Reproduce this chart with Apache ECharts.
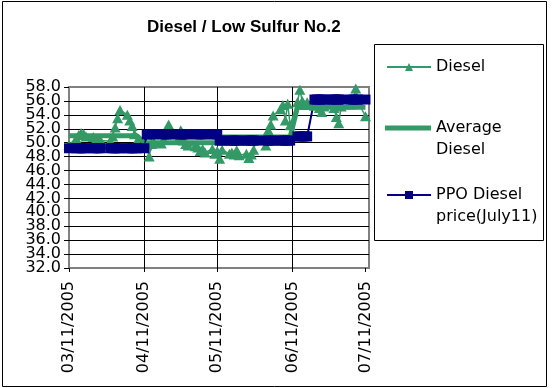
<!DOCTYPE html>
<html><head><meta charset="utf-8">
<script src="https://cdn.jsdelivr.net/npm/echarts@6/dist/echarts.min.js"></script>
<style>html,body{margin:0;padding:0;background:#fff}#c{width:553px;height:388px}</style>
</head><body><div id="c"></div>
<script>
const dates = [
 '2005-03-11','2005-03-14','2005-03-15','2005-03-16','2005-03-17','2005-03-18','2005-03-21','2005-03-22','2005-03-23','2005-03-24','2005-03-28','2005-03-29','2005-03-30','2005-03-31',
 '2005-04-01','2005-04-04','2005-04-05','2005-04-06','2005-04-07','2005-04-08','2005-04-11','2005-04-12','2005-04-13','2005-04-14','2005-04-15','2005-04-18','2005-04-19','2005-04-20','2005-04-21','2005-04-22','2005-04-25','2005-04-26','2005-04-27','2005-04-28','2005-04-29',
 '2005-05-02','2005-05-03','2005-05-04','2005-05-05','2005-05-06','2005-05-09','2005-05-10','2005-05-11','2005-05-12','2005-05-13','2005-05-16','2005-05-17','2005-05-18','2005-05-19','2005-05-20','2005-05-23','2005-05-24','2005-05-25','2005-05-26','2005-05-27','2005-05-31',
 '2005-06-01','2005-06-02','2005-06-03','2005-06-06','2005-06-07','2005-06-08','2005-06-09','2005-06-10','2005-06-13','2005-06-14','2005-06-15','2005-06-16','2005-06-17','2005-06-20','2005-06-21','2005-06-22','2005-06-23','2005-06-24','2005-06-27','2005-06-28','2005-06-29','2005-06-30',
 '2005-07-01','2005-07-05','2005-07-06','2005-07-07','2005-07-08','2005-07-11'
];
const diesel = [
 49.7,50.6,51.1,51.4,51.3,50.9,50.8,50.4,50.2,50.3,50.2,50.9,52.2,53.5,
 54.7,54.0,53.2,52.4,51.2,50.2,49.3,49.6,48.0,49.8,50.0,49.9,50.4,51.5,52.6,51.4,50.5,51.8,50.3,49.8,49.6,
 49.5,49.3,48.8,49.1,48.6,49.1,48.4,48.8,47.7,49.0,48.4,48.6,48.3,48.9,48.2,48.4,47.8,48.3,49.0,50.5,49.6,
 51.8,52.6,53.9,54.8,55.4,53.2,55.6,52.5,55.8,57.6,56.0,55.4,55.8,55.3,55.6,55.0,54.4,55.2,55.6,55.0,53.7,52.8,
 55.2,55.5,56.0,57.8,55.8,53.8
];
const averageDiesel = [
 51.0,51.0,51.0,51.0,51.0,51.0,51.0,51.0,51.0,51.0,51.0,51.0,51.0,51.0,
 51.0,51.0,51.0,51.0,51.0,51.0,50.0,50.0,50.0,50.0,50.0,50.0,50.0,50.0,50.0,50.0,50.0,50.0,50.0,50.0,50.0,
 50.0,50.0,50.0,50.0,50.0,50.0,50.0,50.0,50.8,50.8,50.8,50.8,50.8,50.8,50.8,50.8,50.8,50.8,50.8,50.8,50.8,
 50.8,50.8,50.8,50.8,50.8,50.8,50.8,50.8,55.1,55.1,55.1,55.1,55.1,55.1,55.1,55.1,55.1,55.1,55.1,55.1,55.1,55.1,
 55.1,55.1,55.1,55.1,55.1,55.1
];
const ppoDiesel = [
 49.2,49.2,49.2,49.2,49.2,49.2,49.2,49.2,49.2,49.2,49.2,49.2,49.2,49.2,
 49.2,49.2,49.2,49.2,49.2,49.2,49.2,51.2,51.2,51.2,51.2,51.2,51.2,51.2,51.2,51.2,51.2,51.2,51.2,51.2,51.2,
 51.2,51.2,51.2,51.2,51.2,51.2,51.2,51.2,50.3,50.3,50.3,50.3,50.3,50.3,50.3,50.3,50.3,50.3,50.3,50.3,50.3,
 50.3,50.3,50.3,50.3,50.3,50.3,50.3,50.3,50.9,50.9,50.9,50.9,50.9,56.2,56.2,56.2,56.2,56.2,56.2,56.2,56.2,56.2,
 56.2,56.2,56.2,56.2,56.2,56.2
];
const tickDates = ['2005-03-11','2005-04-11','2005-05-11','2005-06-11','2005-07-11'];
const yTickLabelsA = [32,36,40,44,48,52,56];
const yTickLabelsB = [34,38,42,46,50,54,58];
const xStart = '2005-03-11';
const xEndDays = 123.45;
const yMin = 32, yMax = 58, yStep = 2;
const seriesNames = ['Diesel','Average Diesel','PPO Diesel price(July11)'];
const legendLabels = {'Diesel':'Diesel','Average Diesel':' \nAverage\nDiesel','PPO Diesel price(July11)':' \nPPO Diesel\nprice(July11)'};
const titleText = 'Diesel / Low Sulfur No.2';

function ts(s){const p=s.split('-');return Date.UTC(+p[0],+p[1]-1,+p[2]);}
function pad(n){return (n<10?'0':'')+n;}
function fmt(v){const d=new Date(v);return pad(d.getUTCMonth()+1)+'/'+pad(d.getUTCDate())+'/'+d.getUTCFullYear();}

const FONT='DejaVu Sans';
const GREEN='#339966', NAVY='#000080';
const xMin=ts(xStart), xMax=xMin+xEndDays*86400000;
const tickTs=tickDates.map(ts);

const chart=echarts.init(document.getElementById('c'),null,{renderer:'canvas'});
const legendText={fontFamily:FONT,fontSize:16,color:'#000',lineHeight:22};
const yLabelBase={formatter:v=>Number(v).toFixed(1),fontFamily:FONT,fontSize:16,color:'#000',margin:8,showMinLabel:true,showMaxLabel:true};
chart.setOption({
  animation:false,
  backgroundColor:'#fff',
  title:{text:titleText,left:147,top:19,padding:0,
    textStyle:{fontFamily:'Liberation Sans',fontWeight:'bold',fontSize:17,color:'#000'}},
  grid:{left:69,right:184,top:87,bottom:120,show:true,borderColor:'#808080',borderWidth:2,backgroundColor:'#fff'},
  graphic:[
    {type:'rect',silent:true,z:-10,shape:{x:2.5,y:1.5,width:544,height:385},style:{fill:null,stroke:'#000',lineWidth:1}},
    {type:'rect',silent:true,z:1,shape:{x:374.5,y:44.5,width:169,height:196},style:{fill:'#fff',stroke:'#000',lineWidth:1}}
  ],
  legend:[
    {data:[seriesNames[0]],orient:'vertical',padding:0,left:386,top:56,z:5,itemWidth:44,itemHeight:10,
     formatter:n=>legendLabels[n],textStyle:legendText},
    {data:[{name:seriesNames[1],icon:'rect'}],orient:'vertical',padding:0,left:385,top:95,z:5,itemWidth:46,itemHeight:5,
     formatter:n=>legendLabels[n],textStyle:legendText},
    {data:[seriesNames[2]],orient:'vertical',padding:0,left:386,top:162,z:5,itemWidth:44,itemHeight:10,
     formatter:n=>legendLabels[n],textStyle:legendText}
  ],
  xAxis:{type:'value',min:xMin,max:xMax,
    axisLine:{show:false},
    axisTick:{show:true,customValues:tickTs,length:4,lineStyle:{color:'#000',width:1}},
    axisLabel:{customValues:tickTs,rotate:90,formatter:fmt,fontFamily:FONT,fontSize:16,color:'#000',margin:13,showMinLabel:true,showMaxLabel:true},
    splitLine:{show:true,showMinLine:false,showMaxLine:false,lineStyle:{color:'#000',width:1}}},
  yAxis:[
    {type:'value',min:yMin,max:yMax,interval:yStep,position:'left',
     axisLine:{show:false},
     axisTick:{show:true,length:5,lineStyle:{color:'#000',width:1}},
     axisLabel:Object.assign({customValues:yTickLabelsA},yLabelBase),
     splitLine:{show:true,showMinLine:false,showMaxLine:false,lineStyle:{color:'#000',width:1}}},
    {type:'value',min:yMin,max:yMax,interval:yStep,position:'left',offset:0,
     axisLine:{show:false},axisTick:{show:false},splitLine:{show:false},
     axisLabel:Object.assign({customValues:yTickLabelsB},yLabelBase)}
  ],
  series:[
    {name:seriesNames[0],type:'line',clip:false,symbol:'triangle',symbolSize:[11,10],
     data:dates.map((d,i)=>[ts(d),diesel[i]]),
     lineStyle:{color:GREEN,width:1.5},itemStyle:{color:GREEN}},
    {name:seriesNames[1],type:'line',clip:false,symbol:'none',
     data:dates.map((d,i)=>[ts(d),averageDiesel[i]]),
     lineStyle:{color:GREEN,width:5},itemStyle:{color:GREEN}},
    {name:seriesNames[2],type:'line',clip:false,symbol:'rect',symbolSize:10,
     data:dates.map((d,i)=>[ts(d),ppoDiesel[i]]),
     lineStyle:{color:NAVY,width:2},itemStyle:{color:NAVY}}
  ]
});
</script></body></html>
